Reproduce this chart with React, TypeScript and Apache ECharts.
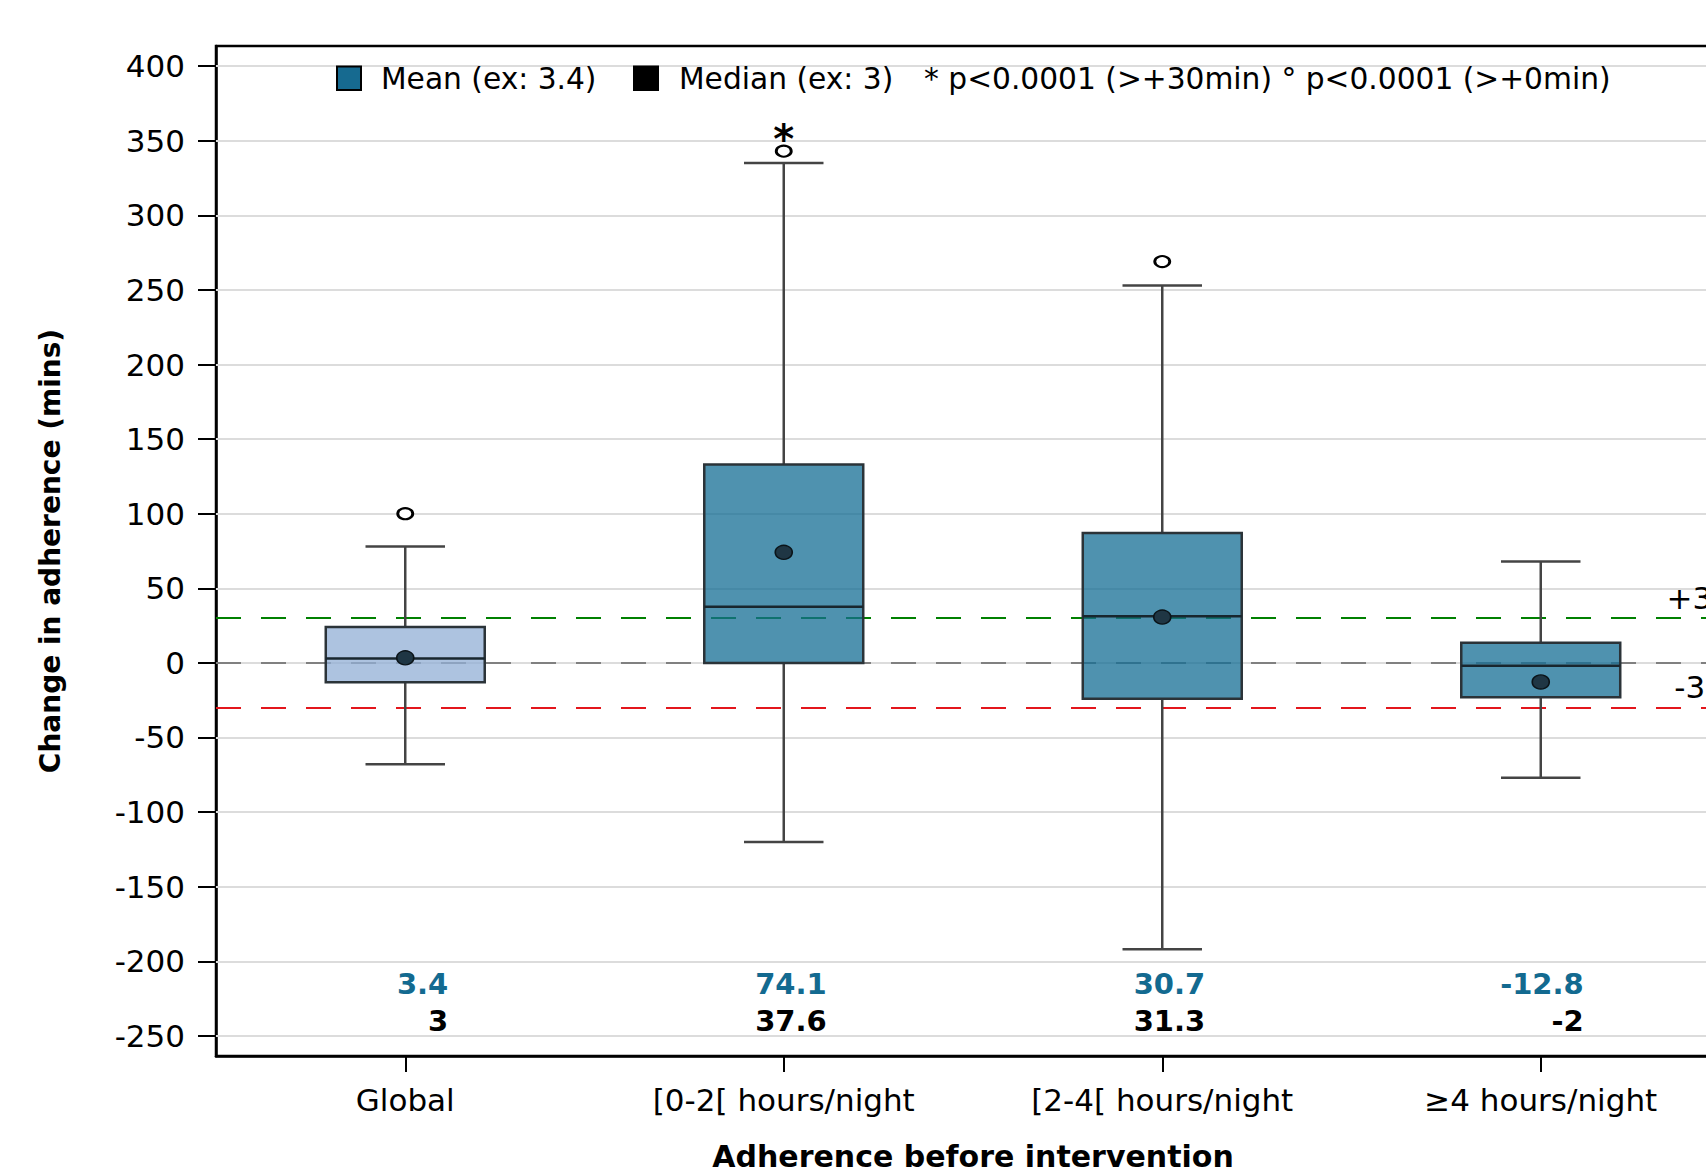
import React, { useEffect, useRef } from "react";
import * as echarts from "echarts";

const categories = ["Global", "[0-2[ hours/night", "[2-4[ hours/night", "≥4 hours/night"];
const whiskerLow = [-68, -120, -192, -77];
const quartile1 = [-13, 0, -24, -23];
const medians = [3, 37.6, 31.3, -2];
const quartile3 = [24, 133, 87, 13.5];
const whiskerHigh = [78, 335, 253, 68];
const means = [3.4, 74.1, 30.7, -12.8];
const outlierCategory = [0, 1, 2];
const outlierValue = [100, 343, 269];
const outlierMark = ["", "*", ""];
const yTicks = [-250, -200, -150, -100, -50, 0, 50, 100, 150, 200, 250, 300, 350, 400];
const upperRef = 30;
const lowerRef = -30;
const upperRefLabel = "+30";
const lowerRefLabel = "-30";

const FONT = "DejaVu Sans";
const MEAN_ROW = -215;
const MEDIAN_ROW = -240.3;

export default function App() {
  const ref = useRef<HTMLDivElement>(null);
  useEffect(() => {
    if (!ref.current) return;
    const chart = echarts.init(ref.current, null, { renderer: "svg" });
    const boxData = categories.map((_, i) => [
      i,
      whiskerLow[i],
      quartile1[i],
      medians[i],
      quartile3[i],
      whiskerHigh[i],
    ]);
    const legendText = { fontSize: 29.7, fontFamily: FONT, fill: "#000", verticalAlign: "middle" };
    const option: any = {
      animation: false,
      backgroundColor: "#fff",
      tooltip: { show: false },
      textStyle: { fontFamily: FONT },
      grid: {
        left: 216,
        top: 46,
        right: -24,
        bottom: 117,
        outerBoundsMode: "none",
        containLabel: false,
        show: true,
        borderColor: "#000",
        borderWidth: 2.5,
        backgroundColor: "transparent",
      },
      graphic: [
        {
          type: "rect",
          z: 10,
          shape: { x: 337, y: 66.5, width: 24, height: 23.5 },
          style: { fill: "#166a90", stroke: "#000", lineWidth: 2 },
        },
        { type: "text", z: 10, x: 381, y: 78, style: { ...legendText, text: "Mean (ex: 3.4)" } },
        {
          type: "rect",
          z: 10,
          shape: { x: 634, y: 66.5, width: 24, height: 23.5 },
          style: { fill: "#000", stroke: "#000", lineWidth: 2 },
        },
        { type: "text", z: 10, x: 679, y: 78, style: { ...legendText, text: "Median (ex: 3)" } },
        {
          type: "text",
          z: 10,
          x: 924,
          y: 78,
          style: { ...legendText, text: "* p<0.0001 (>+30min) ° p<0.0001 (>+0min)" },
        },
      ],
      xAxis: {
        type: "category",
        data: categories,
        boundaryGap: true,
        axisLine: { show: true, onZero: false, lineStyle: { color: "#000", width: 2.5 } },
        axisTick: { show: true, alignWithLabel: true, length: 16, lineStyle: { color: "#000", width: 2 } },
        axisLabel: { fontSize: 31, color: "#000", margin: 28, fontFamily: FONT, interval: 0 },
        splitLine: { show: false },
        name: "Adherence before intervention",
        nameLocation: "middle",
        nameGap: 85,
        nameTextStyle: { fontSize: 30, fontWeight: "bold", color: "#000", fontFamily: FONT },
      },
      yAxis: {
        type: "value",
        min: -263.5,
        max: 413.5,
        axisLine: { show: true, lineStyle: { color: "#000", width: 2.5 } },
        axisTick: { show: true, length: 18, lineStyle: { color: "#000", width: 2 }, customValues: yTicks },
        axisLabel: { customValues: yTicks, fontSize: 31, color: "#000", margin: 31, fontFamily: FONT },
        splitLine: { show: false },
        name: "Change in adherence (mins)",
        nameLocation: "middle",
        nameRotate: 90,
        nameGap: 152,
        nameTextStyle: { fontSize: 28, fontWeight: "bold", color: "#000", fontFamily: FONT },
      },
      series: [
        {
          type: "custom",
          z: 2,
          silent: true,
          data: boxData,
          encode: { x: 0, y: [1, 2, 3, 4, 5] },
          renderItem: (params: any, api: any) => {
            const i = api.value(0);
            const pLo = api.coord([i, api.value(1)]);
            const pQ1 = api.coord([i, api.value(2)]);
            const pMed = api.coord([i, api.value(3)]);
            const pQ3 = api.coord([i, api.value(4)]);
            const pHi = api.coord([i, api.value(5)]);
            const meanRowY = api.coord([i, MEAN_ROW])[1];
            const medRowY = api.coord([i, MEDIAN_ROW])[1];
            const band = api.size([1, 0])[0];
            const bw = band * 0.42;
            const cw = band * 0.21;
            const x = pMed[0];
            const fill = i === 0 ? "rgba(146,175,214,0.75)" : "rgba(20,110,148,0.75)";
            const ls = { stroke: "#444", lineWidth: 2.5 };
            return {
              type: "group",
              children: [
                { type: "line", shape: { x1: x, y1: pQ3[1], x2: x, y2: pHi[1] }, style: ls },
                { type: "line", shape: { x1: x, y1: pQ1[1], x2: x, y2: pLo[1] }, style: ls },
                { type: "line", shape: { x1: x - cw / 2, y1: pHi[1], x2: x + cw / 2, y2: pHi[1] }, style: ls },
                { type: "line", shape: { x1: x - cw / 2, y1: pLo[1], x2: x + cw / 2, y2: pLo[1] }, style: ls },
                {
                  type: "rect",
                  shape: { x: x - bw / 2, y: pQ3[1], width: bw, height: pQ1[1] - pQ3[1] },
                  style: { fill, stroke: "#2b3338", lineWidth: 2.5 },
                },
                {
                  type: "line",
                  shape: { x1: x - bw / 2, y1: pMed[1], x2: x + bw / 2, y2: pMed[1] },
                  style: { stroke: "#18262e", lineWidth: 2.5 },
                },
                {
                  type: "text",
                  x: x + 43,
                  y: meanRowY,
                  style: {
                    text: String(means[i]),
                    align: "right",
                    verticalAlign: "middle",
                    fontSize: 29,
                    fontWeight: "bold",
                    fontFamily: FONT,
                    fill: "#136a90",
                  },
                },
                {
                  type: "text",
                  x: x + 43,
                  y: medRowY,
                  style: {
                    text: String(medians[i]),
                    align: "right",
                    verticalAlign: "middle",
                    fontSize: 29,
                    fontWeight: "bold",
                    fontFamily: FONT,
                    fill: "#000",
                  },
                },
              ],
            };
          },
          markLine: {
            silent: true,
            symbol: "none",
            z: 1,
            animation: false,
            label: { show: false },
            lineStyle: { color: "#dcdcdc", width: 2, type: "solid" },
            data: [
              ...yTicks.map((v) => ({ yAxis: v })),
              { yAxis: 0, lineStyle: { color: "#808080", width: 2, type: [25, 20] } },
              {
                yAxis: upperRef,
                lineStyle: { color: "#008000", width: 2, type: [25, 20] },
                label: {
                  show: true,
                  formatter: upperRefLabel,
                  position: "insideEndTop",
                  offset: [7, 0],
                  fontSize: 31,
                  color: "#000",
                  fontFamily: FONT,
                },
              },
              {
                yAxis: lowerRef,
                lineStyle: { color: "#e3161c", width: 2, type: [25, 20] },
                label: {
                  show: true,
                  formatter: lowerRefLabel,
                  position: "insideEndTop",
                  fontSize: 31,
                  color: "#000",
                  fontFamily: FONT,
                },
              },
            ],
          },
        },
        {
          type: "scatter",
          z: 4,
          silent: true,
          symbol: "circle",
          symbolSize: [15, 11],
          itemStyle: { color: "#fff", borderColor: "#000", borderWidth: 2.5, opacity: 1 },
          data: outlierValue.map((v, k) => [outlierCategory[k], v]),
          label: {
            show: true,
            position: "top",
            distance: 0,
            offset: [0, 14],
            formatter: (p: any) => outlierMark[p.dataIndex],
            fontSize: 40,
            fontWeight: "bold",
            color: "#000",
            fontFamily: FONT,
          },
        },
        {
          type: "scatter",
          z: 5,
          silent: true,
          symbol: "circle",
          symbolSize: [17, 14],
          itemStyle: { color: "#1f3644", borderColor: "#0b1419", borderWidth: 1.5, opacity: 1 },
          data: means.map((v, i) => [i, v]),
        },
      ],
    };
    chart.setOption(option);
    return () => chart.dispose();
  }, []);
  return (
    <div
      style={{
        position: "fixed",
        left: 0,
        top: 0,
        width: 1706,
        height: 1173,
        overflow: "hidden",
        background: "#fff",
      }}
    >
      <div ref={ref} style={{ width: 1706, height: 1173, overflow: "hidden" }} />
    </div>
  );
}
